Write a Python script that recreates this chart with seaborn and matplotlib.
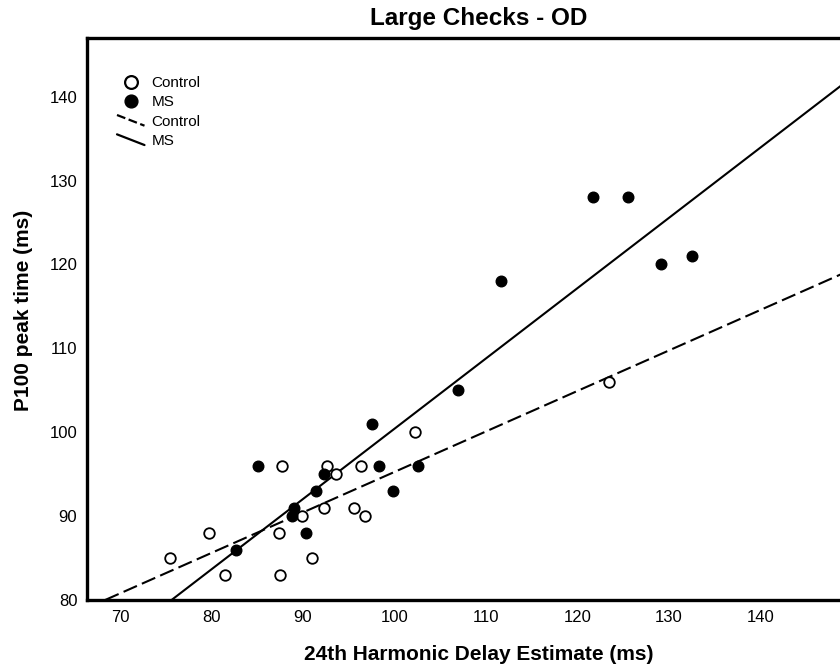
import numpy as np
import pandas as pd
import matplotlib
matplotlib.use("Agg")
import matplotlib.pyplot as plt
import seaborn as sns
from matplotlib.lines import Line2D
from matplotlib.legend_handler import HandlerBase

# ---- data ----
control_x = [75.5, 79.7, 81.5, 87.7, 87.4, 87.5, 91.0, 89.9, 92.3, 92.6, 93.6, 95.6, 96.3, 96.8, 102.3, 123.5]
control_y = [85, 88, 83, 96, 88, 83, 85, 90, 91, 96, 95, 91, 96, 90, 100, 106]
ms_x = [85.1, 82.7, 89.0, 88.8, 90.3, 91.4, 92.3, 97.6, 98.3, 99.8, 102.6, 107.0, 111.7, 121.7, 125.5, 129.1, 132.5]
ms_y = [96, 86, 91, 90, 88, 93, 95, 101, 96, 93, 96, 105, 118, 128, 128, 120, 121]
x_ticks = [70, 80, 90, 100, 110, 120, 130, 140]
y_ticks = [80, 90, 100, 110, 120, 130, 140]
groups = ["Control", "MS"]

df = pd.DataFrame({
    "delay": control_x + ms_x,
    "p100": control_y + ms_y,
    "group": ["Control"] * len(control_x) + ["MS"] * len(ms_x),
})

sns.set_style("white")
plt.rcParams["font.family"] = ["Liberation Sans", "DejaVu Sans"]
plt.rcParams["text.color"] = "black"
plt.rcParams["axes.labelcolor"] = "black"
plt.rcParams["xtick.color"] = "black"
plt.rcParams["ytick.color"] = "black"

W, H = 840, 671
ax_left, ax_right, ax_top, ax_bottom = 87, 871, 38, 600
fig = plt.figure(figsize=(W / 100, H / 100), dpi=100)
ax = fig.add_axes([ax_left / W, 1 - ax_bottom / H, (ax_right - ax_left) / W, (ax_bottom - ax_top) / H])
xlim = (66.4, 152.1)
ylim = (80, 147)
ax.set_xlim(*xlim)
ax.set_ylim(*ylim)

ctrl = df[df.group == "Control"]
ms = df[df.group == "MS"]

sns.regplot(data=ctrl, x="delay", y="p100", ax=ax, scatter=False, ci=None, truncate=False,
            line_kws=dict(color="black", lw=1.5, dashes=(7, 2.6), zorder=2))
sns.regplot(data=ms, x="delay", y="p100", ax=ax, scatter=False, ci=None, truncate=False,
            line_kws=dict(color="black", lw=1.5, zorder=2))

sns.scatterplot(data=ctrl, x="delay", y="p100", ax=ax, marker="o", s=58,
                facecolor="white", edgecolor="black", linewidth=1.3, zorder=3, legend=False)
sns.scatterplot(data=ms, x="delay", y="p100", ax=ax, marker="o", s=58,
                color="black", edgecolor="black", linewidth=1.0, zorder=4, legend=False)

ax.set_xlim(*xlim)
ax.set_ylim(*ylim)
ax.set_xticks(x_ticks)
ax.set_yticks(y_ticks)
ax.tick_params(axis="both", direction="in", length=4, width=0.8, color="#c8c8c8",
               labelsize=12, pad=7, labelcolor="black")
ax.tick_params(axis="y", length=0)

for side in ["left", "bottom", "top", "right"]:
    ax.spines[side].set_color("black")
    ax.spines[side].set_linewidth(2.4)

ax.set_xlabel("24th Harmonic Delay Estimate (ms)", fontsize=15, fontweight="bold")
ax.set_ylabel("P100 peak time (ms)", fontsize=15, fontweight="bold")
ax.xaxis.set_label_coords(0.5, -(645 - ax_bottom) / (ax_bottom - ax_top))
ax.yaxis.set_label_coords(-(ax_left - 33) / (ax_right - ax_left), (ax_bottom - 310) / (ax_bottom - ax_top))
ax.set_title("Large Checks - OD", fontsize=17.5, fontweight="bold", pad=9)


class DiagHandler(HandlerBase):
    def create_artists(self, legend, orig_handle, xdescent, ydescent, width, height, fontsize, trans):
        x0 = -xdescent
        x1 = -xdescent + width
        line = Line2D([x0, x1], [-ydescent + height * 1.0, -ydescent])
        self.update_prop(line, orig_handle, legend)
        line.set_transform(trans)
        return [line]


h_ctrl_pts = Line2D([], [], marker="o", linestyle="none", markersize=9.2, markerfacecolor="white",
                    markeredgecolor="black", markeredgewidth=1.6)
h_ms_pts = Line2D([], [], marker="o", linestyle="none", markersize=9.2, markerfacecolor="black",
                  markeredgecolor="black")
h_ctrl_line = Line2D([], [], color="black", lw=1.6, dashes=(4, 1.6))
h_ms_line = Line2D([], [], color="black", lw=1.6)

leg = ax.legend([h_ctrl_pts, h_ms_pts, h_ctrl_line, h_ms_line],
                [groups[0], groups[1], groups[0], groups[1]],
                handler_map={h_ctrl_line: DiagHandler(), h_ms_line: DiagHandler()},
                loc="upper left",
                bbox_to_anchor=((117 - ax_left) / (ax_right - ax_left), (ax_bottom - 76) / (ax_bottom - ax_top)),
                frameon=False, fontsize=11, labelspacing=0.35, handlelength=1.8, handleheight=0.7,
                handletextpad=0.45, borderpad=0.0, borderaxespad=0.0)

fig.savefig("out.png", dpi=100)
